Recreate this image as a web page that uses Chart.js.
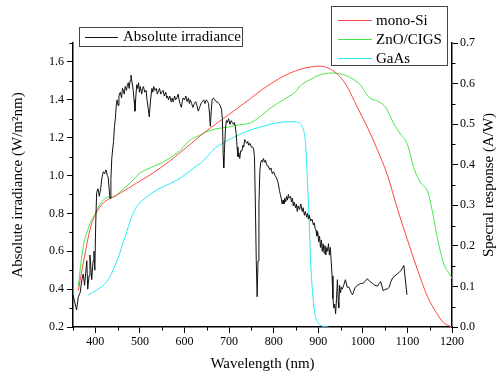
<!DOCTYPE html>
<html>
<head>
<meta charset="utf-8">
<script src="https://cdn.jsdelivr.net/npm/chart.js@4"></script>
<style>
  html, body { margin: 0; padding: 0; background: #fff; }
</style>
</head>
<body>
<canvas id="chart" width="496" height="379"></canvas>
<script>
// Absolute irradiance (left axis)
const irrWavelength = [
  350, 354, 358, 362, 366, 370, 373, 376, 379, 381, 383, 386, 388, 390, 392, 395, 397, 399, 401, 403,
  406, 409, 412, 415, 418, 421, 424, 427, 429, 431, 433, 435, 437, 439, 441, 443, 445, 447, 449, 451,
  453, 456, 459, 461, 463, 465, 467, 470, 472, 474, 476, 478, 480, 482, 485, 487, 489, 491, 493, 495,
  497, 499, 501, 504, 506, 508, 511, 514, 516, 519, 521, 524, 527, 529, 531, 534, 537, 539, 541, 544,
  547, 549, 552, 555, 558, 560, 562, 564, 567, 570, 572, 575, 578, 580, 583, 586, 588, 590, 593, 595,
  597, 600, 603, 606, 609, 611, 613, 616, 619, 622, 625, 628, 631, 634, 637, 640, 643, 646, 649, 652,
  654, 656, 658, 660, 662, 665, 668, 671, 674, 677, 680, 683, 685, 687, 688, 690, 692, 694, 696, 699,
  702, 705, 707, 710, 712, 714, 716, 718, 720, 722, 724, 726, 729, 731, 733, 735, 737, 740, 742, 744,
  747, 750, 753, 755, 757, 759, 761, 763, 765, 767, 769, 771, 773, 775, 777, 780, 782, 784, 786, 788,
  791, 794, 797, 800, 803, 806, 809, 811, 813, 815, 817, 819, 821, 823, 825, 827, 829, 831, 833, 835,
  838, 840, 842, 844, 846, 849, 851, 853, 855, 858, 861, 864, 866, 869, 871, 874, 876, 878, 880, 883,
  886, 889, 891, 893, 895, 897, 899, 901, 903, 905, 907, 909, 911, 913, 915, 917, 919, 921, 923, 925,
  927, 929, 931, 933, 935, 937, 939, 941, 943, 945, 946, 948, 950, 952, 954, 957, 961, 965, 969, 974,
  977, 983, 988, 995, 1000, 1005, 1010, 1016, 1022, 1027, 1033, 1037, 1040, 1046, 1050, 1055, 1059, 1063, 1067, 1072,
  1077, 1081, 1086, 1092, 1099
];
const irrValue = [
  0.37, 0.33, 0.29, 0.36, 0.38, 0.45, 0.48, 0.42, 0.50, 0.55, 0.40, 0.47, 0.58, 0.52, 0.45, 0.55, 0.60, 0.50, 0.75, 0.91,
  0.93, 0.89, 0.93, 0.99, 1.02, 1.01, 1.03, 1.00, 0.99, 0.93, 0.88, 0.98, 1.09, 1.14, 1.18, 1.26, 1.30, 1.37, 1.40, 1.37,
  1.42, 1.44, 1.41, 1.46, 1.45, 1.43, 1.47, 1.45, 1.48, 1.49, 1.46, 1.50, 1.53, 1.50, 1.45, 1.40, 1.34, 1.42, 1.48, 1.46,
  1.49, 1.44, 1.47, 1.43, 1.46, 1.47, 1.44, 1.45, 1.40, 1.35, 1.31, 1.40, 1.46, 1.44, 1.47, 1.45, 1.46, 1.43, 1.44, 1.46,
  1.43, 1.44, 1.45, 1.42, 1.44, 1.41, 1.42, 1.40, 1.42, 1.39, 1.41, 1.39, 1.42, 1.40, 1.41, 1.43, 1.40, 1.38, 1.36, 1.39,
  1.41, 1.40, 1.42, 1.39, 1.41, 1.38, 1.40, 1.38, 1.36, 1.38, 1.39, 1.37, 1.34, 1.36, 1.38, 1.39, 1.40, 1.38, 1.40, 1.39,
  1.38, 1.33, 1.26, 1.34, 1.40, 1.41, 1.40, 1.39, 1.39, 1.38, 1.37, 1.35, 1.30, 1.10, 1.04, 1.15, 1.25, 1.29, 1.28, 1.30,
  1.27, 1.29, 1.28, 1.27, 1.28, 1.26, 1.22, 1.15, 1.10, 1.12, 1.09, 1.13, 1.13, 1.16, 1.15, 1.19, 1.18, 1.17, 1.18, 1.16,
  1.17, 1.15, 1.15, 1.14, 1.10, 0.85, 0.55, 0.36, 0.55, 0.85, 1.02, 1.07, 1.08, 1.07, 1.09, 1.07, 1.08, 1.06, 1.05, 1.05,
  1.03, 1.04, 1.01, 1.02, 1.00, 0.99, 0.97, 0.95, 0.92, 0.90, 0.88, 0.85, 0.87, 0.85, 0.88, 0.86, 0.89, 0.87, 0.90, 0.88,
  0.89, 0.86, 0.88, 0.84, 0.86, 0.83, 0.85, 0.81, 0.84, 0.82, 0.85, 0.81, 0.83, 0.79, 0.81, 0.78, 0.80, 0.77, 0.79, 0.76,
  0.77, 0.74, 0.75, 0.72, 0.71, 0.68, 0.70, 0.65, 0.68, 0.62, 0.66, 0.60, 0.64, 0.59, 0.63, 0.58, 0.62, 0.60, 0.64, 0.58,
  0.62, 0.55, 0.47, 0.35, 0.30, 0.32, 0.27, 0.35, 0.45, 0.33, 0.30, 0.42, 0.38, 0.41, 0.40, 0.42, 0.45, 0.41, 0.41, 0.38,
  0.37, 0.41, 0.42, 0.43, 0.43, 0.44, 0.455, 0.44, 0.43, 0.42, 0.416, 0.43, 0.44, 0.39, 0.40, 0.40, 0.41, 0.44, 0.46, 0.47,
  0.48, 0.487, 0.50, 0.525, 0.37
];

// Spectral response (right axis)
const monoSiWavelength = [362, 370, 377, 383, 388, 395, 403, 418, 441, 456, 493, 530, 568, 606, 624, 660, 699, 748, 774, 800,
  822, 853, 883, 905, 928, 946, 965, 987, 1010, 1033, 1055, 1078, 1100, 1123, 1145, 1165, 1180, 1195, 1200];
const monoSi = [0.09, 0.14, 0.18, 0.215, 0.24, 0.265, 0.283, 0.306, 0.321, 0.33, 0.355, 0.38, 0.41, 0.444, 0.461, 0.492, 0.523, 0.563, 0.585, 0.604,
  0.618, 0.633, 0.641, 0.643, 0.635, 0.62, 0.592, 0.543, 0.493, 0.436, 0.375, 0.29, 0.215, 0.14, 0.075, 0.035, 0.012, 0.002, 0];

const cigsWavelength = [362, 368, 373, 377, 381, 388, 396, 407, 418, 429, 441, 452, 478, 501, 523, 561, 591, 613, 631, 647,
  669, 699, 721, 748, 759, 796, 822, 849, 860, 881, 898, 928, 950, 973, 995, 1013, 1036, 1052, 1070, 1085,
  1100, 1115, 1130, 1145, 1157, 1168, 1182, 1192, 1200];
const cigs = [0.10, 0.16, 0.197, 0.22, 0.232, 0.256, 0.271, 0.296, 0.313, 0.32, 0.32, 0.33, 0.355, 0.38, 0.392, 0.412, 0.436, 0.461, 0.471, 0.48,
  0.488, 0.493, 0.498, 0.503, 0.51, 0.542, 0.56, 0.58, 0.595, 0.609, 0.619, 0.626, 0.624, 0.614, 0.596, 0.567, 0.555, 0.54, 0.50, 0.475,
  0.45, 0.39, 0.355, 0.335, 0.28, 0.215, 0.155, 0.135, 0.12];

const gaasWavelength = [384, 403, 426, 437, 452, 467, 482, 493, 516, 538, 561, 583, 606, 624, 636, 669, 699, 737, 774, 811,
  833, 853, 864, 869, 872, 875, 879, 883, 887, 893, 900, 910, 923];
const gaas = [0.079, 0.091, 0.112, 0.133, 0.173, 0.223, 0.272, 0.297, 0.321, 0.338, 0.35, 0.362, 0.379, 0.395, 0.403, 0.441, 0.461, 0.481, 0.494, 0.504,
  0.506, 0.505, 0.494, 0.475, 0.445, 0.38, 0.28, 0.16, 0.09, 0.03, 0.01, 0.002, 0];

// Tick labels
const xTicks = [400, 500, 600, 700, 800, 900, 1000, 1100, 1200];
const xMinorTicks = [350, 450, 550, 650, 750, 850, 950, 1050, 1150];
const irrTicks = [0.2, 0.4, 0.6, 0.8, 1.0, 1.2, 1.4, 1.6];
const irrMinorTicks = [0.3, 0.5, 0.7, 0.9, 1.1, 1.3, 1.5, 1.7];
const respTicks = [0.0, 0.1, 0.2, 0.3, 0.4, 0.5, 0.6, 0.7];
const respMinorTicks = [0.05, 0.15, 0.25, 0.35, 0.45, 0.55, 0.65];

const toPoints = (xs, ys) => xs.map((x, i) => ({ x: x, y: ys[i] }));

Chart.defaults.font.family = '"Liberation Serif", "DejaVu Serif", serif';
Chart.defaults.color = '#000';

const FONT = '"Liberation Serif", "DejaVu Serif", serif';

// minor tick marks on all three axes
const minorTicks = {
    id: 'minorTicks',
    afterDraw(chart) {
        const ctx = chart.ctx;
        const { x, y, y2 } = chart.scales;
        ctx.save();
        ctx.strokeStyle = '#000';
        ctx.lineWidth = 1;
        ctx.beginPath();
        xMinorTicks.forEach(v => {
            const px = Math.round(x.getPixelForValue(v)) + 0.5;
            ctx.moveTo(px, x.top);
            ctx.lineTo(px, x.top + 3.5);
        });
        irrMinorTicks.forEach(v => {
            const py = Math.round(y.getPixelForValue(v)) + 0.5;
            ctx.moveTo(y.right, py);
            ctx.lineTo(y.right - 3.5, py);
        });
        respMinorTicks.forEach(v => {
            const py = Math.round(y2.getPixelForValue(v)) + 0.5;
            ctx.moveTo(y2.left, py);
            ctx.lineTo(y2.left + 3.5, py);
        });
        ctx.stroke();
        ctx.restore();
    }
};

// two framed legends plus the right axis title (reads bottom to top)
const boxLegends = {
    id: 'boxLegends',
    afterDraw(chart) {
        const ctx = chart.ctx;
        const ds = chart.data.datasets;

        const drawBox = (x, y, w, h, items, lineX0, lineX1, textX, rowY) => {
            ctx.fillStyle = '#fff';
            ctx.fillRect(x, y, w, h);
            ctx.strokeStyle = '#444';
            ctx.lineWidth = 1;
            ctx.strokeRect(x + 0.5, y + 0.5, w, h);
            items.forEach((d, i) => {
                const ry = Math.round(rowY[i]) + 0.5;
                ctx.strokeStyle = d.borderColor;
                ctx.lineWidth = 1;
                ctx.beginPath();
                ctx.moveTo(lineX0, ry);
                ctx.lineTo(lineX1, ry);
                ctx.stroke();
                ctx.fillStyle = '#000';
                ctx.fillText(d.label, textX, rowY[i] + 1);
            });
        };

        ctx.save();
        ctx.font = '15px ' + FONT;
        ctx.textBaseline = 'middle';
        ctx.textAlign = 'left';
        drawBox(79, 27, 163, 19, [ds[0]], 85, 118, 123, [36.5]);
        drawBox(331, 6, 116, 59, ds.slice(1), 338, 372, 376, [20, 39, 58]);

        const area = chart.chartArea;
        ctx.translate(489, (area.top + area.bottom) / 2);
        ctx.rotate(-Math.PI / 2);
        ctx.textAlign = 'center';
        ctx.fillStyle = '#000';
        ctx.fillText('Specral response (A/W)', 0, 0);
        ctx.restore();
    }
};

const axisLine = { color: '#000', width: 1.5 };
const tickGrid = { drawOnChartArea: false, drawTicks: true, tickLength: 6, color: '#000', tickWidth: 1 };

new Chart(document.getElementById('chart'), {
    type: 'line',
    data: {
        datasets: [
            {
                label: 'Absolute irradiance',
                data: toPoints(irrWavelength, irrValue),
                yAxisID: 'y',
                borderColor: '#111',
                borderWidth: 1,
                pointRadius: 0,
                tension: 0
            },
            {
                label: 'mono-Si',
                data: toPoints(monoSiWavelength, monoSi),
                yAxisID: 'y2',
                borderColor: 'rgb(255, 70, 70)',
                borderWidth: 1,
                pointRadius: 0,
                cubicInterpolationMode: 'monotone'
            },
            {
                label: 'ZnO/CIGS',
                data: toPoints(cigsWavelength, cigs),
                yAxisID: 'y2',
                borderColor: 'rgb(70, 230, 70)',
                borderWidth: 1,
                pointRadius: 0,
                cubicInterpolationMode: 'monotone'
            },
            {
                label: 'GaAs',
                data: toPoints(gaasWavelength, gaas),
                yAxisID: 'y2',
                borderColor: 'rgb(40, 235, 245)',
                borderWidth: 1,
                pointRadius: 0,
                cubicInterpolationMode: 'monotone'
            }
        ]
    },
    options: {
        responsive: false,
        animation: false,
        layout: { padding: { top: 43, left: 0, right: 0, bottom: 0 } },
        plugins: {
            legend: { display: false },
            tooltip: { enabled: false }
        },
        scales: {
            x: {
                type: 'linear',
                position: 'bottom',
                min: 350,
                max: 1200,
                afterBuildTicks: s => { s.ticks = xTicks.map(v => ({ value: v })); },
                afterFit: s => { s.height = 52; },
                grid: tickGrid,
                border: axisLine,
                ticks: {
                    autoSkip: false,
                    maxRotation: 0,
                    padding: 2,
                    font: { size: 12 },
                    callback: v => String(v)
                },
                title: {
                    display: true,
                    text: 'Wavelength (nm)',
                    font: { size: 15 },
                    padding: { top: 0, bottom: 6 }
                }
            },
            y: {
                type: 'linear',
                position: 'left',
                min: 0.2,
                max: 1.7,
                afterBuildTicks: s => { s.ticks = irrTicks.map(v => ({ value: v })); },
                afterFit: s => { s.width = 73; },
                grid: tickGrid,
                border: axisLine,
                ticks: {
                    autoSkip: false,
                    padding: 3,
                    font: { size: 12 },
                    callback: v => v.toFixed(1)
                },
                title: {
                    display: true,
                    text: 'Absolute irradiance (W/m²nm)',
                    font: { size: 15 },
                    padding: { top: 9, bottom: 0 }
                }
            },
            y2: {
                type: 'linear',
                position: 'right',
                min: 0,
                max: 0.7,
                afterBuildTicks: s => { s.ticks = respTicks.map(v => ({ value: v })); },
                afterFit: s => { s.width = 44; },
                grid: tickGrid,
                border: axisLine,
                ticks: {
                    autoSkip: false,
                    padding: 2,
                    font: { size: 12 },
                    callback: v => v.toFixed(1)
                }
            }
        }
    },
    plugins: [minorTicks, boxLegends]
});
</script>
</body>
</html>
